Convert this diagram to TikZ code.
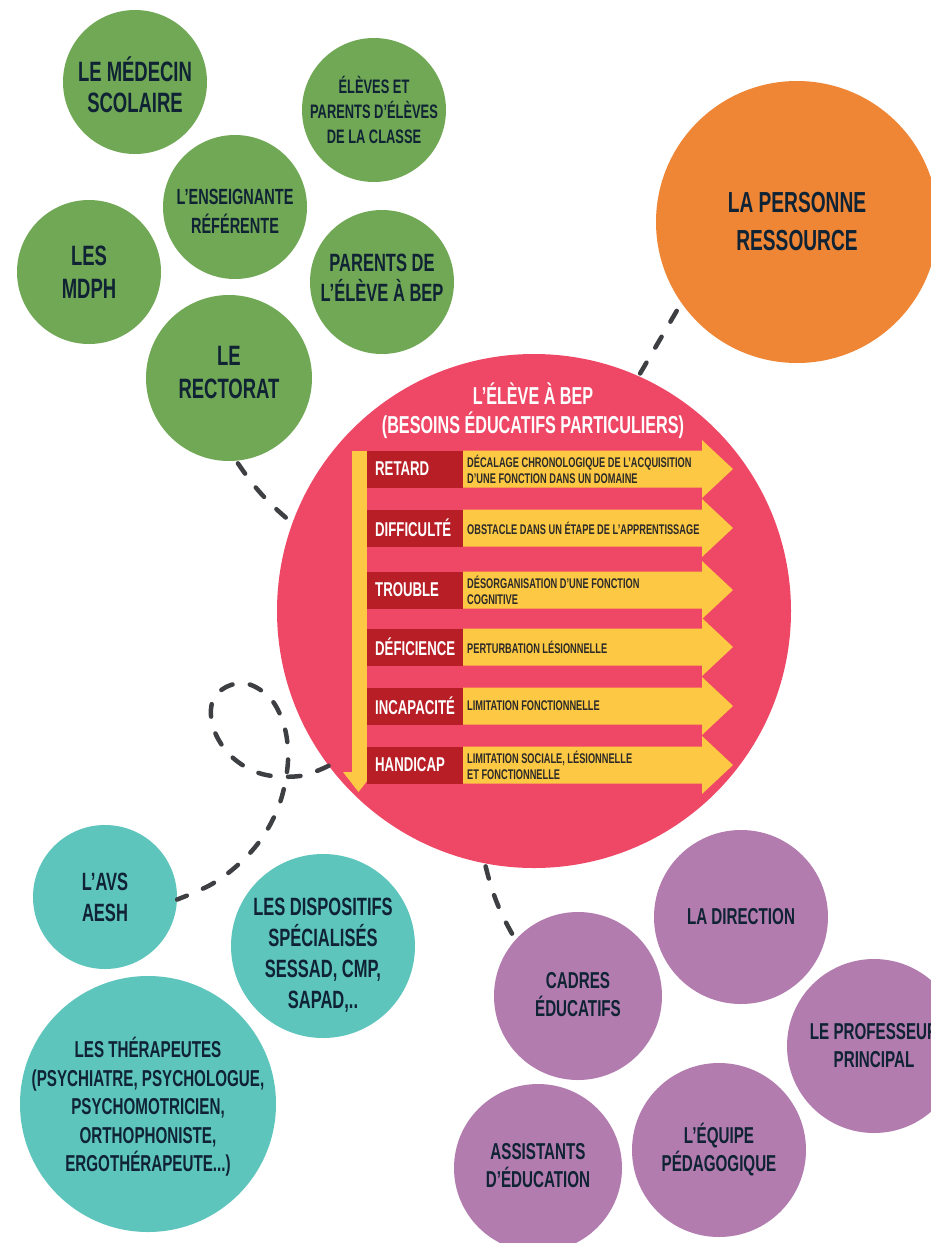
\documentclass[tikz,border=0pt]{standalone}
\usepackage{fontspec}
\setmainfont{Liberation Sans}[FakeStretch=0.66]
\definecolor{cgreen}{HTML}{71A856}
\definecolor{corange}{HTML}{EE8636}
\definecolor{cpink}{HTML}{EF4766}
\definecolor{cteal}{HTML}{5EC5BC}
\definecolor{cpurple}{HTML}{B27CAE}
\definecolor{cdarkred}{HTML}{B81E25}
\definecolor{cyellow}{HTML}{FDC843}
\definecolor{cnavy}{HTML}{0F2334}
\definecolor{cdesc}{HTML}{2B2A29}
\definecolor{cdash}{HTML}{3D3F42}
\begin{document}
\begin{tikzpicture}[x=1pt,y=-1pt,
  fs/.style 2 args={font=\bfseries\fontsize{#1}{#2}\selectfont},
  bubble/.style={circle, inner sep=0pt},
  btext/.style={inner sep=0pt, align=center, text=cnavy},
  conn/.style={draw=cdash, line width=4.5pt, line cap=round, dash pattern=on 12.5pt off 17.5pt, shorten <=3pt, shorten >=3pt},
  labbox/.style={anchor=west, fill=cdarkred, text=white, minimum height=37pt, text width=80pt, inner xsep=8pt, inner ysep=0pt, align=left, fs={20}{22}},
  descbox/.style={anchor=west, text=cdesc, inner sep=0pt, align=left, fs={14}{16}}]
\useasboundingbox (0,0) rectangle (931,1243);
\clip (0,0) rectangle (931,1243);
\fill[white] (0,0) rectangle (931,1243);

% green
\node[bubble, fill=cgreen, minimum size=144pt] (medecin) at (135,82) {};
\node[btext, fs={28}{31}] (medecin-t) at (135,85) {LE MÉDECIN\\SCOLAIRE};
\node[bubble, fill=cgreen, minimum size=144pt] (eleves) at (374,110) {};
\node[btext, fs={19.5}{25}] (eleves-t) at (374,110) {ÉLÈVES ET\\PARENTS D’ÉLÈVES\\DE LA CLASSE};
\node[bubble, fill=cgreen, minimum size=144pt] (ens) at (235,207) {};
\node[btext, fs={22}{29}] (ens-t) at (235,211) {L’ENSEIGNANTE\\RÉFÉRENTE};
\node[bubble, fill=cgreen, minimum size=144pt] (mdph) at (89,272) {};
\node[btext, fs={28}{33}] (mdph-t) at (89,272) {LES\\MDPH};
\node[bubble, fill=cgreen, minimum size=144pt] (parents) at (382,282) {};
\node[btext, fs={25}{30}] (parents-t) at (382,278) {PARENTS DE\\L’ÉLÈVE À BEP};
\node[bubble, fill=cgreen, minimum size=166pt] (rect) at (229,378) {};
\node[btext, fs={28}{33}] (rect-t) at (229,372) {LE\\RECTORAT};

% orange
\node[bubble, fill=corange, minimum size=282pt] (orange) at (797,222) {};
\node[btext, fs={29}{38}] (orange-t) at (797,222) {LA PERSONNE\\RESSOURCE};

% pink
\node[bubble, fill=cpink, minimum size=514pt] (pink) at (534,611) {};
\node[text=white, align=center, inner sep=0pt, fs={24.5}{29}] (title) at (533,411) {L’ÉLÈVE À BEP\\(BESOINS ÉDUCATIFS PARTICULIERS)};

% vertical bar
\fill[cyellow] (352,451) rectangle (367,773);
\fill[cyellow] (343,772) -- (374,772) -- (358.5,792) -- cycle;

% rows
\foreach \y/\lab/\desc/\n in {
  469/RETARD/{DÉCALAGE CHRONOLOGIQUE DE L’ACQUISITION\\D’UNE FONCTION DANS UN DOMAINE}/1,
  528/DIFFICULTÉ/{OBSTACLE DANS UN ÉTAPE DE L’APPRENTISSAGE}/2,
  590/TROUBLE/{DÉSORGANISATION D’UNE FONCTION\\COGNITIVE}/3,
  647/DÉFICIENCE/{PERTURBATION LÉSIONNELLE}/4,
  706/INCAPACITÉ/{LIMITATION FONCTIONNELLE}/5,
  765/HANDICAP/{LIMITATION SOCIALE, LÉSIONNELLE\\ET FONCTIONNELLE}/6}{
  \fill[cyellow] (463,\y-18.5) -- (702,\y-18.5) -- (702,\y-29) -- (733,\y) -- (702,\y+29) -- (702,\y+18.5) -- (463,\y+18.5) -- cycle;
  \node[labbox] (lab\n) at (367,\y) {\lab};
  \node[descbox] (desc\n) at (467,\y) {\desc};
}

% teal
\node[bubble, fill=cteal, minimum size=144pt] (avs) at (105,897) {};
\node[btext, fs={25}{31}] (avs-t) at (105,897) {L’AVS\\AESH};
\node[bubble, fill=cteal, minimum size=184pt] (disp) at (323,946) {};
\node[btext, fs={25}{31}] (disp-t) at (323,955) {LES DISPOSITIFS\\SPÉCIALISÉS\\SESSAD, CMP,\\SAPAD,..};
\node[bubble, fill=cteal, minimum size=256pt] (ther) at (148,1104) {};
\node[btext, fs={23}{28.5}] (ther-t) at (148,1107) {LES THÉRAPEUTES\\(PSYCHIATRE, PSYCHOLOGUE,\\PSYCHOMOTRICIEN,\\ORTHOPHONISTE,\\ERGOTHÉRAPEUTE...)};

% purple
\node[bubble, fill=cpurple, minimum size=168pt] (cadres) at (578,996) {};
\node[btext, fs={23}{28}] (cadres-t) at (578,995) {CADRES\\ÉDUCATIFS};
\node[bubble, fill=cpurple, minimum size=174pt] (dir) at (741,917) {};
\node[btext, fs={23}{28}] (dir-t) at (741,917) {LA DIRECTION};
\node[bubble, fill=cpurple, minimum size=174pt] (prof) at (874,1046) {};
\node[btext, fs={23}{28}] (prof-t) at (874,1046) {LE PROFESSEUR\\PRINCIPAL};
\node[bubble, fill=cpurple, minimum size=168pt] (assist) at (538,1168) {};
\node[btext, fs={23}{28}] (assist-t) at (538,1166) {ASSISTANTS\\D’ÉDUCATION};
\node[bubble, fill=cpurple, minimum size=174pt] (equipe) at (719,1150) {};
\node[btext, fs={23}{28}] (equipe-t) at (719,1150) {L’ÉQUIPE\\PÉDAGOGIQUE};

% connectors
\draw[conn] (pink.66.5) -- (orange.215);
\draw[conn] (rect.-85) to[bend right=8] (pink.160);
\draw[conn] (pink.-101) to[bend right=8] (cadres.138);
\coordinate (p1) at (pink.217.6);
\coordinate (a1) at (avs.-2);
\draw[conn, shorten <=0pt, shorten >=0pt] plot[smooth, tension=0.6] coordinates {(p1) (300,776) (262,774) (232,757) (214,730) (212,703) (226,687) (248,684) (270,698) (283,722) (288,750) (286,778) (278,808) (262,838) (240,863) (212,884) (a1)};
\end{tikzpicture}
\end{document}
